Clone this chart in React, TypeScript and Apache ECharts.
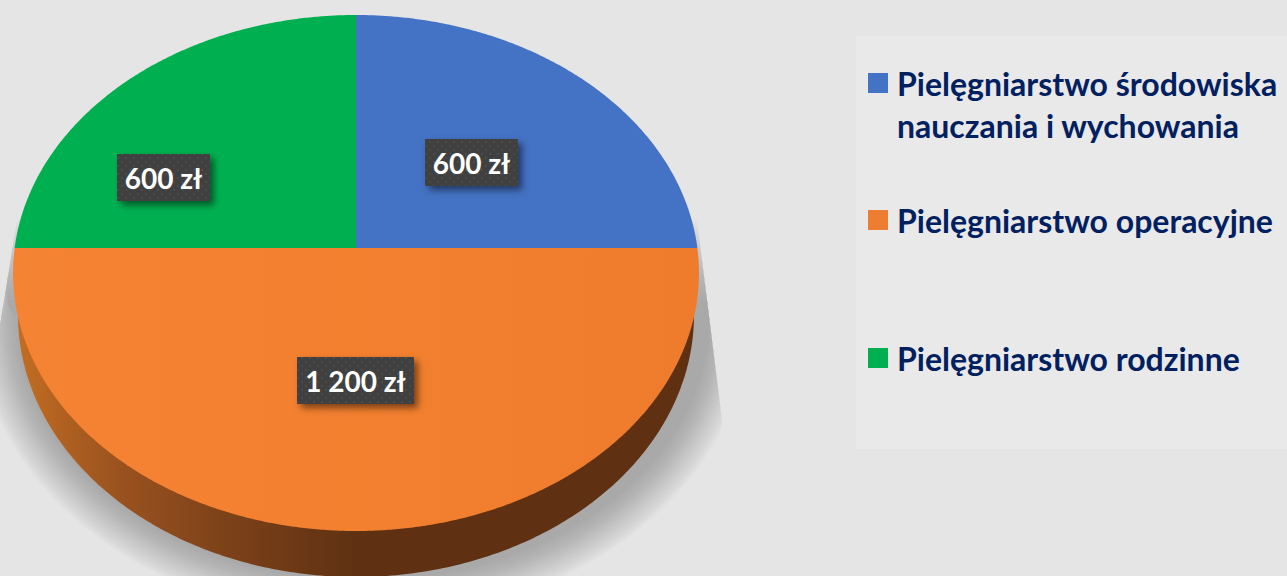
import React, { useEffect, useRef } from "react";
import * as echarts from "echarts";

const categories = [
  "Pielęgniarstwo środowiska nauczania i wychowania",
  "Pielęgniarstwo operacyjne",
  "Pielęgniarstwo rodzinne",
];
const legendLines = [
  "\u00a0\nPielęgniarstwo środowiska\nnauczania i wychowania",
  "Pielęgniarstwo operacyjne",
  "Pielęgniarstwo rodzinne",
];
const values = [600, 1200, 600];
const valueLabels = ["600 zł", "1 200 zł", "600 zł"];
const colors = ["#4472C4", "#ED7D31", "#00B050"];

// Tilted-pie projection
const CX = 356, CY = 273, RX = 343, RY = 258, APEX_Y = 248;
const BCY = 315, BRX = 338, BRY = 262;
const FONT = "Lato, Carlito, 'Open Sans', sans-serif";
const labelBoxes = [
  { x: 425, y: 139, w: 93, h: 47 },
  { x: 297, y: 357, w: 117, h: 47 },
  { x: 117, y: 154, w: 93, h: 47 },
];

function rimPoint(angle: number): number[] {
  const dx = Math.sin(angle), dy = -Math.cos(angle), k = APEX_Y - CY;
  const a = (dx * dx) / (RX * RX) + (dy * dy) / (RY * RY);
  const b = (2 * k * dy) / (RY * RY);
  const c = (k * k) / (RY * RY) - 1;
  const t = (-b + Math.sqrt(b * b - 4 * a * c)) / (2 * a);
  return [CX + t * dx, APEX_Y + t * dy];
}

function slicePoints(s0: number, s1: number): number[][] {
  const pts = [[CX, APEX_Y]];
  const n = Math.max(2, Math.ceil((s1 - s0) * 720));
  for (let i = 0; i <= n; i++) pts.push(rimPoint(2 * Math.PI * (s0 + ((s1 - s0) * i) / n)));
  return pts;
}

function ellipseLower(cx: number, cy: number, rx: number, ry: number): number[][] {
  const pts: number[][] = [];
  for (let i = 0; i <= 240; i++) {
    const t = (Math.PI * i) / 240;
    pts.push([cx + rx * Math.cos(t), cy + ry * Math.sin(t)]);
  }
  return pts; // right to left
}

const wedgeL = (y: number) => 17 - ((y - 220) * 17) / 105;
const wedgeR = (y: number) => 697 + ((y - 220) * 25) / 200;

function shadowLayer(d: number): number[][] {
  const cx = 363, cy = 318;
  const top = 220 + (40 - d) * 2; // darker layers begin lower, so the band fades out upward
  const pts: number[][] = [[wedgeR(top), top]];
  ellipseLower(cx, cy, 346 + d, 262 + d).forEach(([x, y]) =>
    pts.push([Math.max(wedgeL(y), Math.min(wedgeR(y), x)), y])
  );
  pts.push([wedgeL(top), top]);
  return pts;
}

function sidePoints(): number[][] {
  const pts: number[][] = [];
  ellipseLower(CX, BCY, BRX, BRY).forEach((p) => pts.push(p));
  pts.push([CX - BRX, BCY - 20], [CX + BRX, BCY - 20]);
  return pts;
}

function makeDots(): HTMLCanvasElement {
  const c = document.createElement("canvas");
  c.width = 8;
  c.height = 8;
  const g = c.getContext("2d")!;
  g.fillStyle = "#404040";
  g.fillRect(0, 0, 8, 8);
  g.fillStyle = "#4c4c4c";
  g.fillRect(1, 1, 2, 2);
  g.fillRect(5, 5, 2, 2);
  return c;
}

export default function App() {
  const ref = useRef<HTMLDivElement>(null);
  useEffect(() => {
    const chart = echarts.init(ref.current!, undefined, { renderer: "svg" });
    const total = values.reduce((a, b) => a + b, 0);
    const dots = makeDots();
    const topGrad = (i: number) =>
      i === 1
        ? new echarts.graphic.LinearGradient(0, 0, 1, 0, [
            { offset: 0, color: "#F58334" },
            { offset: 0.5, color: "#F3802F" },
            { offset: 1, color: "#EF7C2D" },
          ])
        : colors[i];

    const sliceSeries = categories.map((name, i) => {
      const s0 = values.slice(0, i).reduce((a, b) => a + b, 0) / total;
      return {
        type: "custom",
        name,
        coordinateSystem: "none",
        silent: true,
        z: 5,
        itemStyle: { color: colors[i] },
        data: [values[i]],
        renderItem: (_p: any, api: any) => {
          const s1 = s0 + (api.value(0) as number) / total;
          const b = labelBoxes[i];
          return {
            type: "group",
            children: [
              {
                type: "polygon",
                shape: { points: slicePoints(s0, s1) },
                style: { fill: topGrad(i) },
              },
              {
                type: "rect",
                shape: { x: b.x, y: b.y, width: b.w, height: b.h },
                style: {
                  fill: { image: dots, repeat: "repeat" },
                  shadowBlur: 7,
                  shadowOffsetX: 4,
                  shadowOffsetY: 4,
                  shadowColor: "rgba(0,0,0,0.5)",
                },
              },
              {
                type: "text",
                style: {
                  x: b.x + b.w / 2,
                  y: b.y + b.h / 2,
                  text: valueLabels[i],
                  align: "center",
                  verticalAlign: "middle",
                  fill: "#FFFFFF",
                  font: `bold 28px ${FONT}`,
                },
              },
            ],
          };
        },
      };
    });

    const base = {
      type: "custom",
      name: "base",
      coordinateSystem: "none",
      silent: true,
      z: 2,
      data: [total],
      renderItem: () => {
        const layers = [];
        for (let d = 40; d >= 0; d -= 2) {
          layers.push({
            type: "polygon",
            shape: { points: shadowLayer(d) },
            style: { fill: "rgba(110,110,110,0.026)" },
          });
        }
        layers.push({
          type: "polygon",
          shape: { points: sidePoints() },
          style: {
            fill: new echarts.graphic.LinearGradient(0, 0, 1, 0, [
              { offset: 0, color: "#C26D22" },
              { offset: 0.15, color: "#9A521F" },
              { offset: 0.3, color: "#7E4219" },
              { offset: 0.5, color: "#5F3112" },
              { offset: 1, color: "#5F3112" },
            ]),
          },
        });
        return { type: "group", children: layers };
      },
    };

    const legendCommon = {
      left: 868,
      orient: "vertical",
      itemWidth: 20,
      itemHeight: 20,
      icon: "rect",
      padding: 0,
      selectedMode: false,
      textStyle: {
        fontFamily: FONT,
        fontWeight: "bold",
        fontSize: 32,
        lineHeight: 42,
        color: "#002060",
        padding: [0, 0, 0, 4],
      },
    };

    chart.setOption({
      animation: false,
      backgroundColor: "#E5E5E5",
      legend: [
        { ...legendCommon, top: 20, data: [categories[0]], formatter: () => legendLines[0] },
        { ...legendCommon, top: 199, data: [categories[1]], formatter: () => legendLines[1] },
        { ...legendCommon, top: 337, data: [categories[2]], formatter: () => legendLines[2] },
      ],
      graphic: [
        {
          type: "rect",
          z: 0,
          silent: true,
          shape: { x: 856, y: 36, width: 431, height: 413 },
          style: { fill: "#E9E9E9" },
        },
      ],
      series: [base, ...sliceSeries],
    });
    return () => chart.dispose();
  }, []);
  return (
    <div
      ref={ref}
      style={{ position: "fixed", left: 0, top: 0, width: 1287, height: 576 }}
    />
  );
}
